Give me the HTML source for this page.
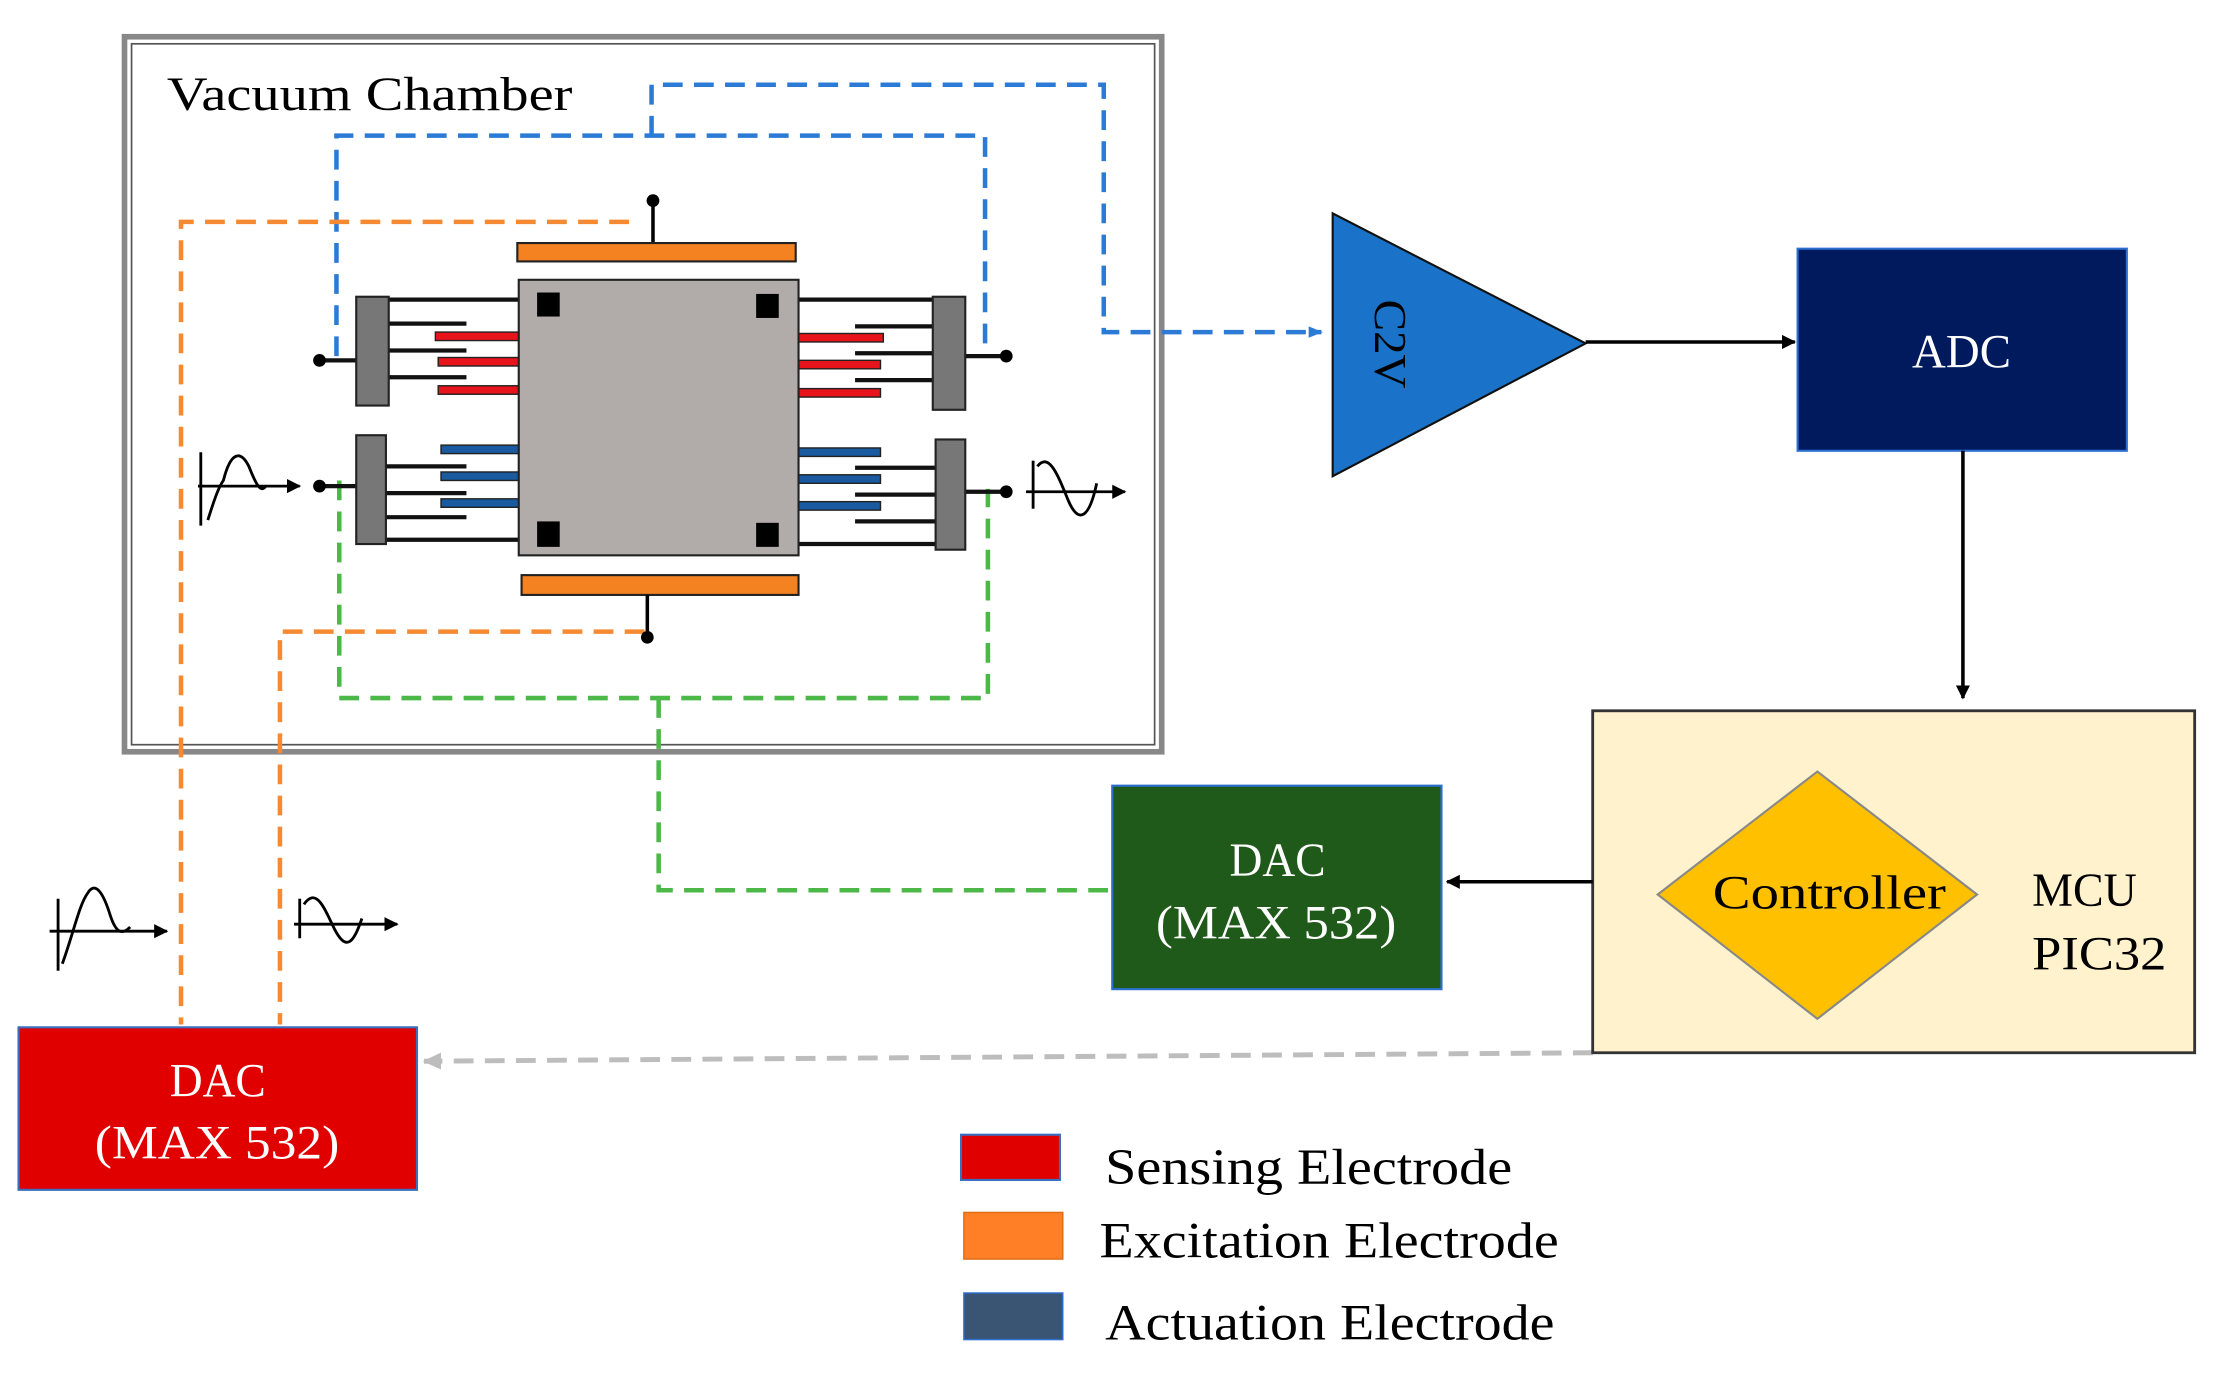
<!DOCTYPE html>
<html><head><meta charset="utf-8"><style>
html,body{margin:0;padding:0;background:#fff;}
svg{display:block;}
text{font-family:"Liberation Serif",serif;}
</style></head><body>
<svg width="2216" height="1382" viewBox="0 0 1568 978" xmlns="http://www.w3.org/2000/svg">
<defs>
<marker id="ab" markerWidth="10" markerHeight="10" refX="9" refY="5" orient="auto" markerUnits="userSpaceOnUse"><path d="M0,0 L10,5 L0,10 z" fill="#000"/></marker>
<marker id="abl" markerWidth="10" markerHeight="10" refX="9" refY="5" orient="auto" markerUnits="userSpaceOnUse"><path d="M0,1 L10,5 L0,9 z" fill="#2b7bd6"/></marker>
<marker id="agr" markerWidth="14" markerHeight="14" refX="12" refY="7" orient="auto" markerUnits="userSpaceOnUse"><path d="M0,1 L13,7 L0,13 z" fill="#bdbdbd"/></marker>
</defs>
<rect width="1568" height="978" fill="#fff"/>

<rect x="88" y="26" width="734" height="506" fill="none" stroke="#888" stroke-width="4"/>
<rect x="93" y="31" width="724" height="496" fill="none" stroke="#555" stroke-width="1.2"/>
<text x="118" y="78" font-size="34" textLength="287" lengthAdjust="spacingAndGlyphs">Vacuum Chamber</text>

<g fill="none" stroke-width="3.2" stroke-dasharray="14,8">
<path d="M238,252 V96 H697 V252" stroke="#2b7bd6"/>
<path d="M461,96 V60 H781 V235 H935" stroke="#2b7bd6" marker-end="url(#abl)"/>
<path d="M445,157 H128 V725" stroke="#f58a32"/>
<path d="M456,447 H198 V725" stroke="#f58a32"/>
<path d="M240,340 V494 H699 V346" stroke="#4cb848"/>
<path d="M466,494 V630 H785" stroke="#4cb848"/>
<path d="M1127,745 L300,751" stroke="#bdbdbd" stroke-width="3.5" marker-end="url(#agr)"/>
</g>

<line x1="462" y1="142" x2="462" y2="172" stroke="#000" stroke-width="2.5"/>
<circle cx="462" cy="142" r="4.5"/>
<rect x="366" y="172" width="197" height="13" fill="#f58220" stroke="#222" stroke-width="1.5"/>
<rect x="369" y="407" width="196" height="14" fill="#f58220" stroke="#222" stroke-width="1.5"/>
<line x1="458" y1="421" x2="458" y2="450" stroke="#000" stroke-width="2.5"/>
<circle cx="458" cy="451" r="4.5"/>

<g stroke="#111" stroke-width="3">
<line x1="275" y1="212" x2="395" y2="212"/><line x1="273" y1="382" x2="395" y2="382"/>
<line x1="540" y1="212" x2="660" y2="212"/><line x1="540" y1="385" x2="662" y2="385"/>
<line x1="275" y1="229" x2="330" y2="229"/><line x1="275" y1="248" x2="330" y2="248"/><line x1="275" y1="267" x2="330" y2="267"/>
<line x1="273" y1="330" x2="330" y2="330"/><line x1="273" y1="349" x2="330" y2="349"/><line x1="273" y1="366" x2="330" y2="366"/>
<line x1="605" y1="231" x2="660" y2="231"/><line x1="605" y1="250" x2="660" y2="250"/><line x1="605" y1="269" x2="660" y2="269"/>
<line x1="605" y1="331" x2="662" y2="331"/><line x1="605" y1="350" x2="662" y2="350"/><line x1="605" y1="369" x2="662" y2="369"/>
<line x1="226" y1="255" x2="252" y2="255"/><line x1="683" y1="252" x2="712" y2="252"/>
<line x1="226" y1="344" x2="252" y2="344"/><line x1="683" y1="348" x2="712" y2="348"/>
</g>
<g stroke="#222" stroke-width="1">
<rect x="308" y="235" width="59" height="6" fill="#e8141b"/><rect x="310" y="253" width="57" height="6" fill="#e8141b"/><rect x="310" y="273" width="57" height="6" fill="#e8141b"/>
<rect x="565" y="236" width="60" height="6" fill="#e8141b"/><rect x="565" y="255" width="58" height="6" fill="#e8141b"/><rect x="565" y="275" width="58" height="6" fill="#e8141b"/>
<rect x="312" y="315" width="55" height="6" fill="#1a5aa0"/><rect x="312" y="334" width="55" height="6" fill="#1a5aa0"/><rect x="312" y="353" width="55" height="6" fill="#1a5aa0"/>
<rect x="565" y="317" width="58" height="6" fill="#1a5aa0"/><rect x="565" y="336" width="58" height="6" fill="#1a5aa0"/><rect x="565" y="355" width="58" height="6" fill="#1a5aa0"/>
</g>
<g fill="#777" stroke="#222" stroke-width="1.5">
<rect x="252" y="210" width="23" height="77"/><rect x="660" y="210" width="23" height="80"/>
<rect x="252" y="308" width="21" height="77"/><rect x="662" y="311" width="21" height="78"/>
</g>
<circle cx="226" cy="255" r="4.5"/><circle cx="712" cy="252" r="4.5"/>
<circle cx="226" cy="344" r="4.5"/><circle cx="712" cy="348" r="4.5"/>

<rect x="367" y="198" width="198" height="195" fill="#b1aca9" stroke="#222" stroke-width="1.5"/>
<g fill="#000">
<rect x="380" y="207" width="16" height="17"/><rect x="535" y="208" width="16" height="17"/>
<rect x="380" y="369" width="16" height="18"/><rect x="535" y="370" width="16" height="17"/>
</g>

<g fill="none" stroke="#000" stroke-width="2">
<path d="M140,344 H212" marker-end="url(#ab)"/><path d="M142,320 V372"/>
<path d="M147,368 C152,352 155,344 158,340 C163,320 170,318 176,330 C180,340 184,350 188,344"/>
<path d="M726,348 H796" marker-end="url(#ab)"/><path d="M731,326 V360"/>
<path d="M734,330 C742,320 748,335 755,352 C762,370 770,370 776,342"/>
<path d="M35,659 H118" marker-end="url(#ab)"/><path d="M41,636 V687"/>
<path d="M44,682 C52,660 56,640 62,632 C68,622 74,635 78,648 C82,660 86,662 92,656"/>
<path d="M208,654 H281" marker-end="url(#ab)"/><path d="M212,636 V664"/>
<path d="M215,640 C225,625 232,650 238,660 C245,672 250,668 256,650"/>
</g>

<polygon points="943,151 943,337 1122,243" fill="#1a73c8" stroke="#111" stroke-width="1.5"/>
<text x="0" y="0" font-size="32" transform="translate(973,212) rotate(90)" textLength="63" lengthAdjust="spacingAndGlyphs">C2V</text>
<line x1="1122" y1="242" x2="1270" y2="242" stroke="#000" stroke-width="2.5" marker-end="url(#ab)"/>

<rect x="1272" y="176" width="233" height="143" fill="#001a5e" stroke="#2b6fd0" stroke-width="1.5"/>
<text x="1353" y="260" font-size="34" fill="#fff" textLength="70" lengthAdjust="spacingAndGlyphs">ADC</text>
<line x1="1389" y1="319" x2="1389" y2="494" stroke="#000" stroke-width="2.5" marker-end="url(#ab)"/>

<rect x="1127" y="503" width="426" height="242" fill="#fff2cc" stroke="#333" stroke-width="2"/>
<polygon points="1286,546 1399,633 1286,721 1173,633" fill="#ffc000" stroke="#888" stroke-width="1.5"/>
<text x="1212" y="643" font-size="34" textLength="165" lengthAdjust="spacingAndGlyphs">Controller</text>
<text x="1438" y="641" font-size="34" textLength="74" lengthAdjust="spacingAndGlyphs">MCU</text>
<text x="1438" y="686" font-size="34" textLength="95" lengthAdjust="spacingAndGlyphs">PIC32</text>
<line x1="1127" y1="624" x2="1024" y2="624" stroke="#000" stroke-width="2.5" marker-end="url(#ab)"/>

<rect x="787" y="556" width="233" height="144" fill="#205a1a" stroke="#2b6fd0" stroke-width="1.5"/>
<text x="870" y="620" font-size="34" fill="#fff" textLength="68" lengthAdjust="spacingAndGlyphs">DAC</text>
<text x="818" y="664" font-size="34" fill="#fff" textLength="170" lengthAdjust="spacingAndGlyphs">(MAX 532)</text>

<rect x="13" y="727" width="282" height="115" fill="#e00000" stroke="#3a6fc0" stroke-width="1.5"/>
<text x="120" y="776" font-size="34" fill="#fff" textLength="68" lengthAdjust="spacingAndGlyphs">DAC</text>
<text x="67" y="820" font-size="34" fill="#fff" textLength="173" lengthAdjust="spacingAndGlyphs">(MAX 532)</text>

<rect x="680" y="803" width="70" height="32" fill="#e00000" stroke="#3a6fc0" stroke-width="1.5"/>
<rect x="682" y="858" width="70" height="33" fill="#ff7f27" stroke="#e06a10" stroke-width="1"/>
<rect x="682" y="915" width="70" height="33" fill="#3a5574" stroke="#2b6fd0" stroke-width="1"/>
<text x="782" y="838" font-size="36" textLength="288" lengthAdjust="spacingAndGlyphs">Sensing Electrode</text>
<text x="778" y="890" font-size="36" textLength="325" lengthAdjust="spacingAndGlyphs">Excitation Electrode</text>
<text x="782" y="948" font-size="36" textLength="318" lengthAdjust="spacingAndGlyphs">Actuation Electrode</text>
</svg>
</body></html>
